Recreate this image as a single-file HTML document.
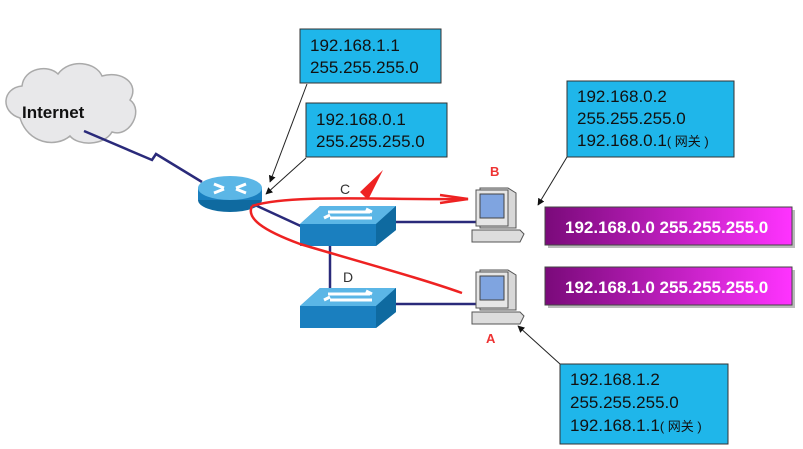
<!DOCTYPE html>
<html><head><meta charset="utf-8"><style>
body{margin:0;background:#fff}
svg{display:block}
.t{font-family:"Liberation Sans","Noto Sans CJK SC",sans-serif;font-size:17px;fill:#111}
.s{font-size:13px}
.w{font-family:"Liberation Sans",sans-serif;font-weight:bold;font-size:17px;fill:#fff}
</style></head><body>
<svg width="803" height="449" viewBox="0 0 803 449" xmlns="http://www.w3.org/2000/svg">
<defs>
<linearGradient id="pg" x1="0" x2="1"><stop offset="0" stop-color="#7a0a7a"/><stop offset="1" stop-color="#ff33ff"/></linearGradient>
<marker id="ah" viewBox="0 0 10 10" refX="9" refY="5" markerWidth="7" markerHeight="7" orient="auto"><path d="M0,0L10,5L0,10z" fill="#111"/></marker>
<g id="pc">
<path d="M10,4 L38,4 L46,9 L46,44 L10,44z" fill="#d8d8d8" stroke="#555"/>
<rect x="6" y="6" width="32" height="36" fill="#e6e6e6" stroke="#555"/>
<rect x="10" y="10" width="24" height="24" fill="#7fa4e0" stroke="#444"/>
<path d="M2,46 L50,46 L54,50 L50,58 L2,58z" fill="#ddd" stroke="#555"/>
</g>
<g id="sw">
<path d="M0,28 L20,10 L96,10 L96,34 L76,50 L0,50z" fill="#1a7fbf"/>
<path d="M0,28 L20,10 L96,10 L76,28z" fill="#5bb6e6"/>
<path d="M76,28 L96,10 L96,34 L76,50z" fill="#0f6aa0"/>
<path d="M28,16 L70,16 M72,16 l-6,-3 M30,22 L72,22 M24,22 l6,-3" stroke="#fff" stroke-width="3" fill="none"/>
</g>
</defs>
<path d="M20,118 C0,112 2,88 22,86 C24,68 48,64 58,74 C70,58 96,62 102,76 C122,70 140,84 130,100 C144,110 130,138 112,132 C104,146 78,146 70,136 C56,148 28,144 20,118z" fill="#e8e8ea" stroke="#aaa" stroke-width="1.5"/>
<text x="22" y="118" font-family="Liberation Sans,sans-serif" font-weight="bold" font-size="17" fill="#111">Internet</text>
<polyline points="84,131 152,160 156,154 202,182" fill="none" stroke="#2a2a7a" stroke-width="2.5"/>
<line x1="255" y1="205" x2="305" y2="228" stroke="#2a2a7a" stroke-width="2.5"/>
<line x1="395" y1="222" x2="478" y2="222" stroke="#2a2a7a" stroke-width="2.5"/>
<line x1="330" y1="243" x2="330" y2="290" stroke="#2a2a7a" stroke-width="2.5"/>
<line x1="395" y1="304" x2="478" y2="304" stroke="#2a2a7a" stroke-width="2.5"/>
<ellipse cx="230" cy="200" rx="32" ry="12" fill="#0f6aa0"/>
<rect x="198" y="188" width="64" height="12" fill="#1a7fbf"/>
<ellipse cx="230" cy="188" rx="32" ry="12" fill="#5bb6e6"/>
<path d="M214,184 l10,4 M246,184 l-10,4 M214,193 l10,-4 M246,193 l-10,-4" stroke="#fff" stroke-width="3"/>
<use href="#sw" x="300" y="196"/>
<use href="#sw" x="300" y="278"/>
<use href="#pc" x="470" y="184"/>
<use href="#pc" x="470" y="266"/>
<text x="490" y="176" font-family="Liberation Sans,sans-serif" font-weight="bold" font-size="13" fill="#e33">B</text>
<text x="486" y="343" font-family="Liberation Sans,sans-serif" font-weight="bold" font-size="13" fill="#e33">A</text>
<path d="M252,206 C290,194 380,200 468,199" fill="none" stroke="#e22" stroke-width="2.5"/>
<path d="M440,195 L468,199 L440,203" fill="none" stroke="#e22" stroke-width="2.5"/>
<path d="M252,206 C246,218 262,230 300,244 C360,262 420,278 462,293" fill="none" stroke="#e22" stroke-width="2.5"/>
<path d="M383,170 L368,200 L360,192 z" fill="#e22"/>
<text x="340" y="194" font-family="Liberation Sans,sans-serif" font-size="14" fill="#333">C</text>
<text x="343" y="282" font-family="Liberation Sans,sans-serif" font-size="14" fill="#333">D</text>
<rect x="300" y="29" width="141" height="54" fill="#1fb6ea" stroke="#333"/>
<text class="t" x="310" y="51">192.168.1.1</text><text class="t" x="310" y="73">255.255.255.0</text>
<rect x="306" y="103" width="141" height="54" fill="#1fb6ea" stroke="#333"/>
<text class="t" x="316" y="125">192.168.0.1</text><text class="t" x="316" y="147">255.255.255.0</text>
<rect x="567" y="81" width="167" height="76" fill="#1fb6ea" stroke="#333"/>
<text class="t" x="577" y="102">192.168.0.2</text><text class="t" x="577" y="124">255.255.255.0</text><text class="t" x="577" y="146">192.168.0.1<tspan class="s">( 网关 )</tspan></text>
<rect x="560" y="364" width="168" height="80" fill="#1fb6ea" stroke="#333"/>
<text class="t" x="570" y="385">192.168.1.2</text><text class="t" x="570" y="408">255.255.255.0</text><text class="t" x="570" y="431">192.168.1.1<tspan class="s">( 网关 )</tspan></text>
<line x1="307" y1="84" x2="270" y2="182" stroke="#222" marker-end="url(#ah)"/>
<line x1="306" y1="158" x2="266" y2="194" stroke="#222" marker-end="url(#ah)"/>
<line x1="567" y1="157" x2="538" y2="205" stroke="#222" marker-end="url(#ah)"/>
<line x1="560" y1="364" x2="518" y2="326" stroke="#222" marker-end="url(#ah)"/>
<rect x="548" y="210" width="247" height="38" fill="#bbb"/>
<rect x="545" y="207" width="247" height="38" fill="url(#pg)" stroke="#444"/>
<text class="w" x="565" y="233">192.168.0.0 255.255.255.0</text>
<rect x="548" y="270" width="247" height="38" fill="#bbb"/>
<rect x="545" y="267" width="247" height="38" fill="url(#pg)" stroke="#444"/>
<text class="w" x="565" y="293">192.168.1.0 255.255.255.0</text>
</svg>
</body></html>
